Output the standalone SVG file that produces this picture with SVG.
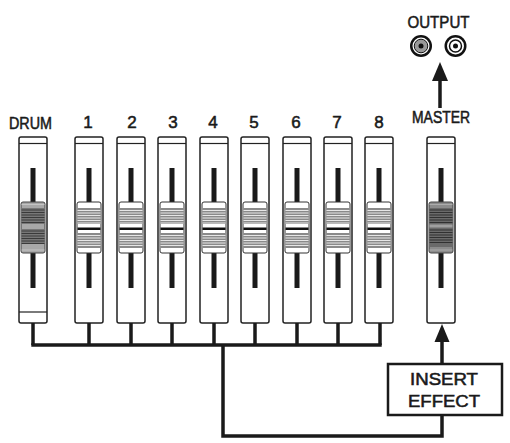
<svg xmlns="http://www.w3.org/2000/svg" width="510" height="443" viewBox="0 0 510 443">
<style>
.strip{fill:#fff;stroke:#222;stroke-width:1.5}
.cap{stroke:#222;stroke-width:1.2}
.slot{fill:#1a1a1a}
.wire{fill:none;stroke:#1a1a1a;stroke-width:3.5;stroke-linejoin:miter}
.lbl{font-family:"Liberation Sans",Arial,sans-serif;font-size:17px;fill:#1a1a1a;stroke:#1a1a1a;stroke-width:0.55;text-anchor:middle}
.box{fill:#fff;stroke:#1a1a1a;stroke-width:2.5}
</style>
<defs>
<g id="knobW">
<rect x="-12" y="0" width="24" height="51" rx="2" fill="#fff" stroke="#333" stroke-width="1"/>
<rect x="-11.5" y="6" width="23" height="16" fill="#8a8a8a"/>
<path d="M-11.5 8.5H11.5M-11.5 11H11.5M-11.5 13.5H11.5M-11.5 16H11.5M-11.5 18.5H11.5M-11.5 21H11.5" stroke="#fff" stroke-width="0.8"/>
<rect x="-11.5" y="25.5" width="23" height="2.5" fill="#111"/>
<rect x="-11.5" y="31" width="23" height="15" fill="#8a8a8a"/>
<path d="M-11.5 33.5H11.5M-11.5 36H11.5M-11.5 38.5H11.5M-11.5 41H11.5M-11.5 43.5H11.5" stroke="#fff" stroke-width="0.8"/>
</g>
<g id="knobG">
<rect x="-12" y="0" width="24" height="51" rx="2" fill="#a8a8a8" stroke="#444" stroke-width="1"/>
<rect x="-11.5" y="6" width="23" height="16" fill="#777"/>
<path d="M-11.5 8H11.5M-11.5 10.5H11.5M-11.5 13H11.5M-11.5 15.5H11.5M-11.5 18H11.5M-11.5 20.5H11.5" stroke="#333" stroke-width="0.9"/>
<rect x="-11.5" y="27" width="23" height="15" fill="#777"/>
<path d="M-11.5 29H11.5M-11.5 31.5H11.5M-11.5 34H11.5M-11.5 36.5H11.5M-11.5 39H11.5M-11.5 41.5H11.5" stroke="#333" stroke-width="0.9"/>
<path d="M-11.5 2.5H11.5M-11.5 48H11.5" stroke="#ccc" stroke-width="0.8"/>
</g>
<g id="knobM">
<rect x="-12" y="0" width="24" height="51" rx="2" fill="#8c8c8c" stroke="#444" stroke-width="1"/>
<rect x="-11.5" y="6" width="23" height="39" fill="#6a6a6a"/>
<path d="M-11.5 8H11.5M-11.5 10.5H11.5M-11.5 13H11.5M-11.5 15.5H11.5M-11.5 18H11.5M-11.5 20.5H11.5M-11.5 28H11.5M-11.5 30.5H11.5M-11.5 33H11.5M-11.5 35.5H11.5M-11.5 38H11.5M-11.5 40.5H11.5" stroke="#2a2a2a" stroke-width="0.9"/>
<rect x="-11.5" y="22.5" width="23" height="3" fill="#a0a0a0"/>
<path d="M-11.5 2.5H11.5M-11.5 48H11.5" stroke="#b5b5b5" stroke-width="0.8"/>
</g>
</defs>

<g id="output">
<text class="lbl" x="438.5" y="28" font-size="18" textLength="62" lengthAdjust="spacingAndGlyphs">OUTPUT</text>
<circle cx="421" cy="46" r="11" fill="#111"/>
<circle cx="421" cy="46" r="8.5" fill="#fff"/>
<circle cx="421" cy="46" r="6.8" fill="#999" stroke="#111" stroke-width="1"/>
<circle cx="421" cy="46" r="2.5" fill="#111"/>
<circle cx="455.5" cy="46" r="11" fill="#111"/>
<circle cx="455.5" cy="46" r="8.5" fill="#fff"/>
<circle cx="455.5" cy="46" r="6" fill="#fff" stroke="#111" stroke-width="1.5"/>
<circle cx="455.5" cy="46" r="2.5" fill="#111"/>
</g>

<g id="drum">
<text class="lbl" x="30.5" y="129" textLength="43" lengthAdjust="spacingAndGlyphs">DRUM</text>
<rect class="strip" x="19" y="137" width="28" height="186" rx="2"/>
<line class="cap" x1="19" y1="143.5" x2="47" y2="143.5"/>
<line class="cap" x1="19" y1="312" x2="47" y2="312"/>
<rect class="slot" x="30.5" y="168" width="5" height="120"/>
<use href="#knobG" x="33" y="202"/>
</g>

<g id="ch1">
<text class="lbl" x="88" y="128">1</text>
<rect class="strip" x="75" y="137" width="28" height="186" rx="2"/>
<line class="cap" x1="75" y1="143.5" x2="103" y2="143.5"/>
<rect class="slot" x="86.5" y="168" width="5" height="120"/>
<use href="#knobW" x="89" y="202"/>
</g>
<g id="ch2">
<text class="lbl" x="132" y="128">2</text>
<rect class="strip" x="117" y="137" width="28" height="186" rx="2"/>
<line class="cap" x1="117" y1="143.5" x2="145" y2="143.5"/>
<rect class="slot" x="128.5" y="168" width="5" height="120"/>
<use href="#knobW" x="131" y="202"/>
</g>
<g id="ch3">
<text class="lbl" x="173" y="128">3</text>
<rect class="strip" x="158" y="137" width="28" height="186" rx="2"/>
<line class="cap" x1="158" y1="143.5" x2="186" y2="143.5"/>
<rect class="slot" x="169.5" y="168" width="5" height="120"/>
<use href="#knobW" x="172" y="202"/>
</g>
<g id="ch4">
<text class="lbl" x="213" y="128">4</text>
<rect class="strip" x="200" y="137" width="28" height="186" rx="2"/>
<line class="cap" x1="200" y1="143.5" x2="228" y2="143.5"/>
<rect class="slot" x="211.5" y="168" width="5" height="120"/>
<use href="#knobW" x="214" y="202"/>
</g>
<g id="ch5">
<text class="lbl" x="254" y="128">5</text>
<rect class="strip" x="241" y="137" width="28" height="186" rx="2"/>
<line class="cap" x1="241" y1="143.5" x2="269" y2="143.5"/>
<rect class="slot" x="252.5" y="168" width="5" height="120"/>
<use href="#knobW" x="255" y="202"/>
</g>
<g id="ch6">
<text class="lbl" x="296" y="128">6</text>
<rect class="strip" x="283" y="137" width="28" height="186" rx="2"/>
<line class="cap" x1="283" y1="143.5" x2="311" y2="143.5"/>
<rect class="slot" x="294.5" y="168" width="5" height="120"/>
<use href="#knobW" x="297" y="202"/>
</g>
<g id="ch7">
<text class="lbl" x="337" y="128">7</text>
<rect class="strip" x="324" y="137" width="28" height="186" rx="2"/>
<line class="cap" x1="324" y1="143.5" x2="352" y2="143.5"/>
<rect class="slot" x="335.5" y="168" width="5" height="120"/>
<use href="#knobW" x="338" y="202"/>
</g>
<g id="ch8">
<text class="lbl" x="379" y="128">8</text>
<rect class="strip" x="365" y="137" width="28" height="186" rx="2"/>
<line class="cap" x1="365" y1="143.5" x2="393" y2="143.5"/>
<rect class="slot" x="376.5" y="168" width="5" height="120"/>
<use href="#knobW" x="379" y="202"/>
</g>

<g id="master">
<text class="lbl" x="441" y="123" textLength="58" lengthAdjust="spacingAndGlyphs">MASTER</text>
<rect class="strip" x="427" y="137" width="28" height="186" rx="2"/>
<line class="cap" x1="427" y1="143.5" x2="455" y2="143.5"/>
<rect class="slot" x="438.5" y="168" width="5" height="120"/>
<use href="#knobM" x="441" y="202"/>
</g>

<g id="insert">
<rect class="box" x="388" y="364" width="114" height="51"/>
<text class="lbl" x="444" y="385" font-size="20" textLength="68" lengthAdjust="spacingAndGlyphs">INSERT</text>
<text class="lbl" x="444" y="407" font-size="20" textLength="72" lengthAdjust="spacingAndGlyphs">EFFECT</text>
</g>

<g id="connectors">
<path class="wire" d="M33 323V345M89 323V345M131 323V345M172 323V345M214 323V345M255 323V345M297 323V345M338 323V345M380 323V345"/>
<path class="wire" d="M31.3 345H381.7"/>
<path class="wire" d="M223 345V436H442V415"/>
<path class="wire" d="M442 364V340"/>
<polygon points="442,324 449.5,342 434.5,342" fill="#1a1a1a"/>
<path class="wire" d="M440 108V78"/>
<polygon points="440,62 448,81 432,81" fill="#1a1a1a"/>
</g>
</svg>
